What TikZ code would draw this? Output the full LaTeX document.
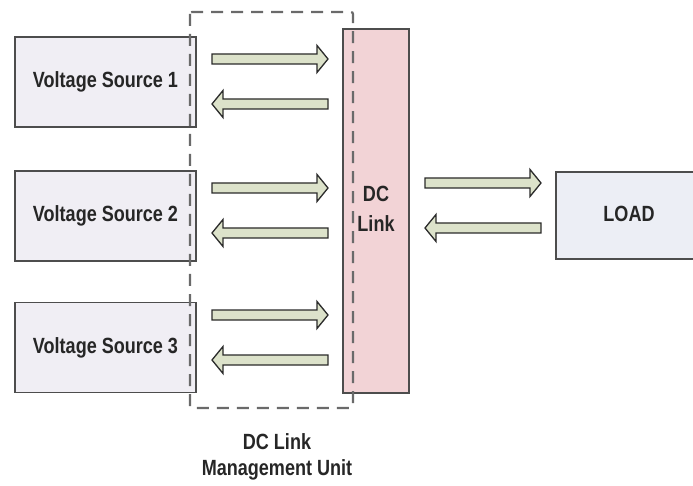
\documentclass[tikz,border=0pt]{standalone}
\usepackage{fontspec}
\setmainfont[FakeStretch=0.82]{Liberation Sans}
\usetikzlibrary{calc}

\definecolor{srcfill}{HTML}{F0EEF4}
\definecolor{loadfill}{HTML}{ECEEF5}
\definecolor{linkfill}{HTML}{F2D3D6}
\definecolor{boxline}{HTML}{4D4D4D}
\definecolor{arrowfill}{HTML}{DCE2CA}
\definecolor{arrowline}{HTML}{2A2A2A}
\definecolor{unitline}{HTML}{6A6A6A}

\tikzset{
  labeltext/.style={font=\bfseries\fontsize{22}{29.5}\selectfont, text=black!85, align=center, inner sep=0pt},
  srcbox/.style={draw=boxline, line width=1.6pt, fill=srcfill, rectangle, inner sep=0pt,
                 minimum width=181pt, minimum height=90pt, labeltext},
  loadbox/.style={draw=boxline, line width=1.6pt, fill=loadfill, rectangle, inner sep=0pt,
                 minimum width=146pt, minimum height=87pt},
  linkbox/.style={draw=boxline, line width=1.6pt, fill=linkfill, rectangle, inner sep=0pt,
                 minimum width=66pt, minimum height=364pt},
  unitframe/.style={draw=unitline, line width=2.2pt, dash pattern=on 12pt off 8pt, rounded corners=2pt},
  % hollow block arrow from \tikztostart to \tikztotarget
  blockarrow/.style={draw=arrowline, fill=arrowfill, line width=1.3pt, line join=miter,
    to path={
      ($(\tikztostart)!5pt!90:(\tikztotarget)$)
      -- ($(\tikztotarget)!11pt!(\tikztostart)!5pt!-90:(\tikztostart)$)
      -- ($(\tikztotarget)!11pt!(\tikztostart)!13.5pt!-90:(\tikztostart)$)
      -- (\tikztotarget)
      -- ($(\tikztotarget)!11pt!(\tikztostart)!13.5pt!90:(\tikztostart)$)
      -- ($(\tikztotarget)!11pt!(\tikztostart)!5pt!90:(\tikztostart)$)
      -- ($(\tikztostart)!5pt!-90:(\tikztotarget)$)
      -- cycle}},
}

\begin{document}
\begin{tikzpicture}[x=1pt, y=-1pt]
  \useasboundingbox (0,0) rectangle (693,486);

  % sources, DC link and load
  \node[srcbox] (vs1) at (105.5,82) {Voltage Source 1};
  \node[srcbox] (vs2) at (105.5,216) {Voltage Source 2};
  \node[srcbox] (vs3) at (105.5,347.5) {Voltage Source 3};
  \node[linkbox] (link) at (376,211) {};
  \node[labeltext] (linktext) at (376,209) {DC\\Link};
  \node[loadbox] (load) at (629,215.5) {};
  \node[labeltext] (loadtext) at (629,213.5) {LOAD};

  % arrow end points
  \coordinate (a1s) at (212,59);   \coordinate (a1e) at (328,59);
  \coordinate (b1s) at (328,104);  \coordinate (b1e) at (212,104);
  \coordinate (a2s) at (212,188);  \coordinate (a2e) at (328,188);
  \coordinate (b2s) at (328,233);  \coordinate (b2e) at (212,233);
  \coordinate (a3s) at (212,315);  \coordinate (a3e) at (328,315);
  \coordinate (b3s) at (328,360);  \coordinate (b3e) at (212,360);
  \coordinate (a4s) at (425,183);  \coordinate (a4e) at (541,183);
  \coordinate (b4s) at (541,228);  \coordinate (b4e) at (425,228);

  \foreach \p in {a1,b1,a2,b2,a3,b3,a4,b4}
    \draw[blockarrow] (\p s) to (\p e);

  % management unit frame
  \coordinate (unitnw) at (190,12);
  \coordinate (unitse) at (353,408);
  \draw[unitframe] (unitnw) rectangle (unitse);
  \node[labeltext, font=\bfseries\fontsize{22}{26}\selectfont] (unittext) at (277,457.3)
    {DC Link\\Management Unit};
\end{tikzpicture}
\end{document}
